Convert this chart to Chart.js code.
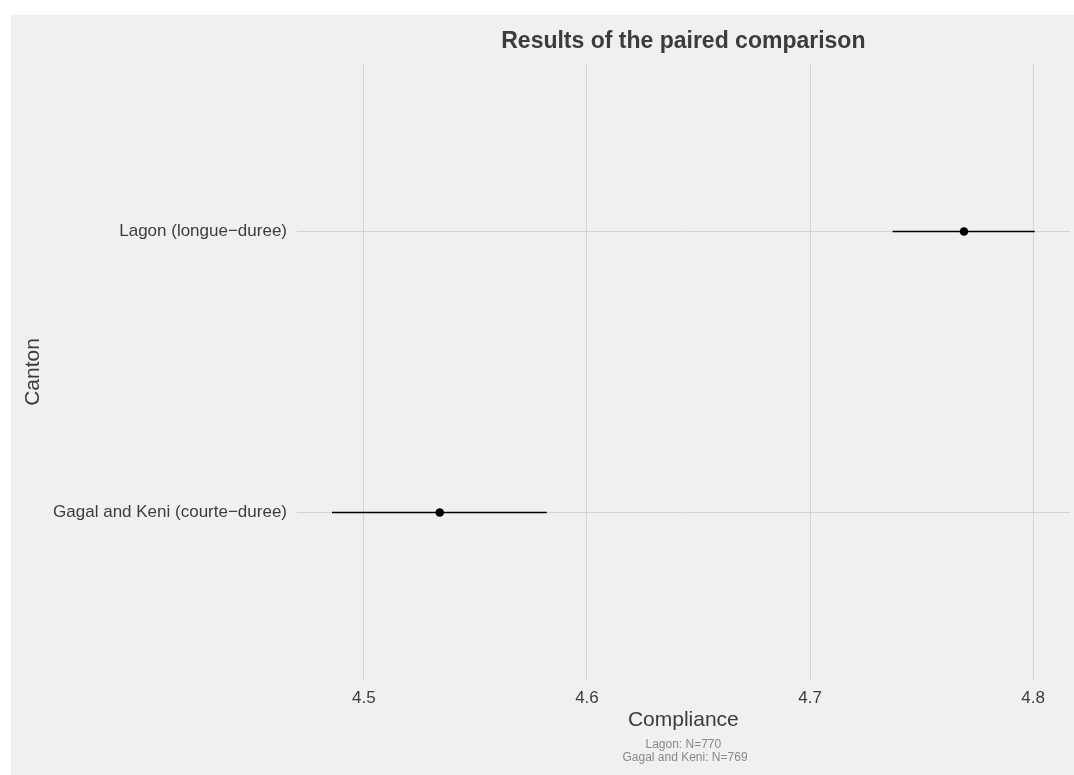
<!DOCTYPE html>
<html>
<head>
<meta charset="utf-8">
<script src="https://cdn.jsdelivr.net/npm/chart.js@4.4.1/dist/chart.umd.min.js"></script>
<style>
  html, body { margin: 0; padding: 0; background: #ffffff; }
  #wrap { position: absolute; left: 11px; top: 15px; width: 1063px; height: 760px; background: #f0f0f0; }
</style>
</head>
<body>
<div id="wrap"><canvas id="chart" width="1063" height="760"></canvas></div>
<script>
// data (y = 1 is the bottom row)
const categories = ['Gagal and Keni (courte\u2212duree)', 'Lagon (longue\u2212duree)'];
const estimates = [4.534, 4.769];
const lower = [4.4857, 4.737];
const upper = [4.582, 4.8007];
const xTicks = [4.5, 4.6, 4.7, 4.8];
const captionLines = ['Lagon: N=770', ' Gagal and Keni: N=769'];

const textColor = '#3c3c3c';
const gridColor = '#d4d4d4';

const datasets = [];
categories.forEach((c, i) => {
  datasets.push({
    type: 'line',
    data: [{ x: lower[i], y: i + 1 }, { x: upper[i], y: i + 1 }],
    borderColor: '#000000',
    borderWidth: 1.5,
    pointRadius: 0,
    showLine: true
  });
});
datasets.push({
  type: 'scatter',
  data: estimates.map((v, i) => ({ x: v, y: i + 1 })),
  backgroundColor: '#000000',
  borderColor: '#000000',
  pointRadius: 4.3,
  borderWidth: 0
});

const ctx = document.getElementById('chart').getContext('2d');
const myChart = new Chart(ctx, {
  type: 'scatter',
  data: { datasets: datasets },
  options: {
    responsive: false,
    animation: false,
    layout: { padding: { left: 0, right: 3, top: 0, bottom: 0 } },
    plugins: {
      legend: { display: false },
      tooltip: { enabled: false },
      title: {
        display: true,
        text: 'Results of the paired comparison',
        fullSize: false,
        color: textColor,
        font: { family: 'Liberation Sans', size: 23, weight: 'bold', lineHeight: 1.2 },
        padding: { top: 13, bottom: 7.4 }
      },
      subtitle: {
        display: true,
        position: 'bottom',
        fullSize: false,
        text: captionLines,
        color: '#888888',
        font: { family: 'Liberation Sans', size: 12, lineHeight: 1.1 },
        padding: { top: 0, bottom: 10.4 }
      }
    },
    scales: {
      x: {
        type: 'linear',
        min: 4.47,
        max: 4.8164,
        afterBuildTicks: s => { s.ticks = xTicks.map(v => ({ value: v })); },
        afterFit: s => { s.height = 57.2; },
        border: { display: false },
        grid: { color: gridColor, lineWidth: 1, drawTicks: false },
        ticks: {
          color: textColor,
          padding: 7,
          font: { family: 'Liberation Sans', size: 17 },
          callback: v => v.toFixed(1)
        },
        title: {
          display: true,
          text: 'Compliance',
          color: textColor,
          font: { family: 'Liberation Sans', size: 21, lineHeight: 1.2 },
          padding: { top: 0, bottom: 5.6 }
        }
      },
      y: {
        type: 'linear',
        min: 0.4,
        max: 2.6,
        afterBuildTicks: s => { s.ticks = categories.map((c, i) => ({ value: i + 1 })); },
        afterFit: s => { s.width = 286; },
        border: { display: false },
        grid: { color: gridColor, lineWidth: 1, drawTicks: false },
        ticks: {
          color: textColor,
          padding: 10,
          font: { family: 'Liberation Sans', size: 17 },
          callback: v => categories[Math.round(v) - 1]
        },
        title: {
          display: true,
          text: 'Canton',
          color: textColor,
          font: { family: 'Liberation Sans', size: 21, lineHeight: 1.2 },
          padding: { top: 10, bottom: 0 }
        }
      }
    }
  }
});
</script>
</body>
</html>
